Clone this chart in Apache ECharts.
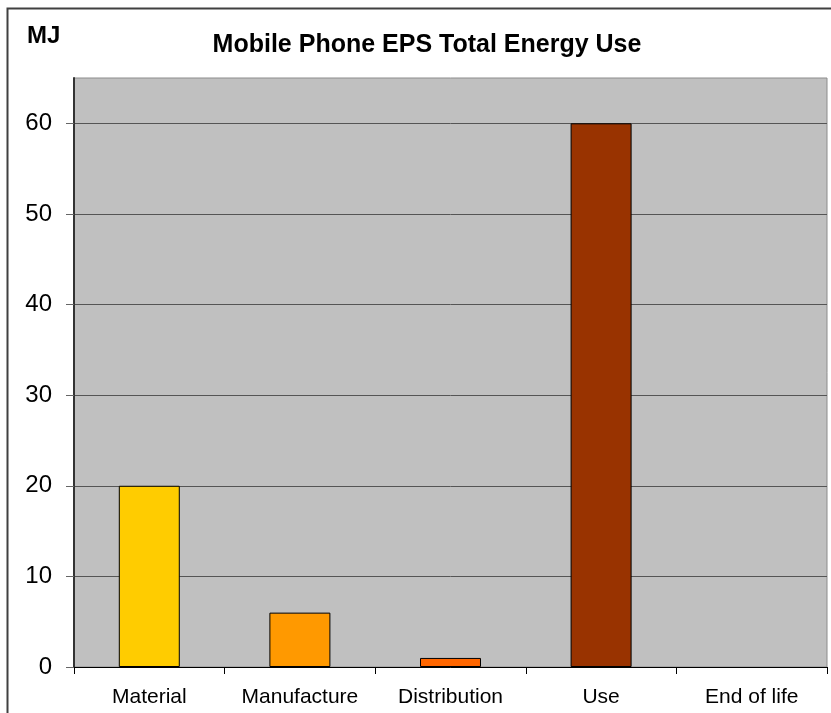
<!DOCTYPE html>
<html>
<head>
<meta charset="utf-8">
<script src="https://cdn.jsdelivr.net/npm/echarts@6/dist/echarts.min.js"></script>
<style>
  html, body { margin: 0; padding: 0; background: #ffffff; }
  #chart { width: 831px; height: 713px; }
</style>
</head>
<body>
<div id="chart"></div>
<script>
// Life-cycle stages and their energy use (MJ)
const stages = ['Material', 'Manufacture', 'Distribution', 'Use', 'End of life'];
const energyMJ = [20, 6, 1, 60, 0];
const stageColors = ['#FFCC00', '#FF9900', '#FF6600', '#993300', '#808080'];
const chartTitle = 'Mobile Phone EPS Total Energy Use';
const unitLabel = 'MJ';

const FONT = '"Liberation Sans", Arial, sans-serif';

const chart = echarts.init(document.getElementById('chart'), null, { renderer: 'canvas' });

chart.setOption({
  animation: false,
  backgroundColor: '#ffffff',
  graphic: [
    {
      // outer chart frame (runs past the right and bottom edges)
      type: 'rect',
      left: 5, top: 6,
      shape: { width: 900, height: 800 },
      style: { fill: 'none', stroke: '#404040', lineWidth: 2 },
      silent: true
    }
  ],
  title: [
    {
      text: chartTitle,
      left: 422, top: 28,
      textAlign: 'center',
      textStyle: { fontFamily: FONT, fontSize: 25, fontWeight: 'bold', color: '#000' }
    },
    {
      text: unitLabel,
      left: 22, top: 19,
      textStyle: { fontFamily: FONT, fontSize: 24, fontWeight: 'bold', color: '#000' }
    }
  ],
  grid: {
    left: 74, right: 4, top: 78, bottom: 46,
    show: true,
    backgroundColor: '#C0C0C0',
    borderColor: '#8c8c8c',
    borderWidth: 1,
    containLabel: false
  },
  xAxis: {
    type: 'category',
    data: stages,
    axisLine: { show: true, lineStyle: { color: '#000', width: 1 } },
    axisTick: { show: true, length: 7, lineStyle: { color: '#000' } },
    axisLabel: { fontFamily: FONT, fontSize: 21, color: '#000', margin: 20, interval: 0 },
    splitLine: { show: false }
  },
  yAxis: {
    type: 'value',
    min: 0, max: 65, interval: 10,
    axisLine: { show: true, lineStyle: { color: '#333', width: 2 } },
    axisTick: { show: true, length: 8, lineStyle: { color: '#666' } },
    axisLabel: { fontFamily: FONT, fontSize: 24, color: '#000', margin: 22, showMaxLabel: false },
    splitLine: { show: true, showMaxLine: false, lineStyle: { color: '#555', width: 1 } }
  },
  series: [
    {
      type: 'bar',
      barWidth: '40.5%',
      data: energyMJ.map((v, i) => ({
        value: v,
        itemStyle: { color: stageColors[i], borderColor: '#000', borderWidth: v === 0 ? 0 : 1 }
      }))
    }
  ]
});
</script>
</body>
</html>
